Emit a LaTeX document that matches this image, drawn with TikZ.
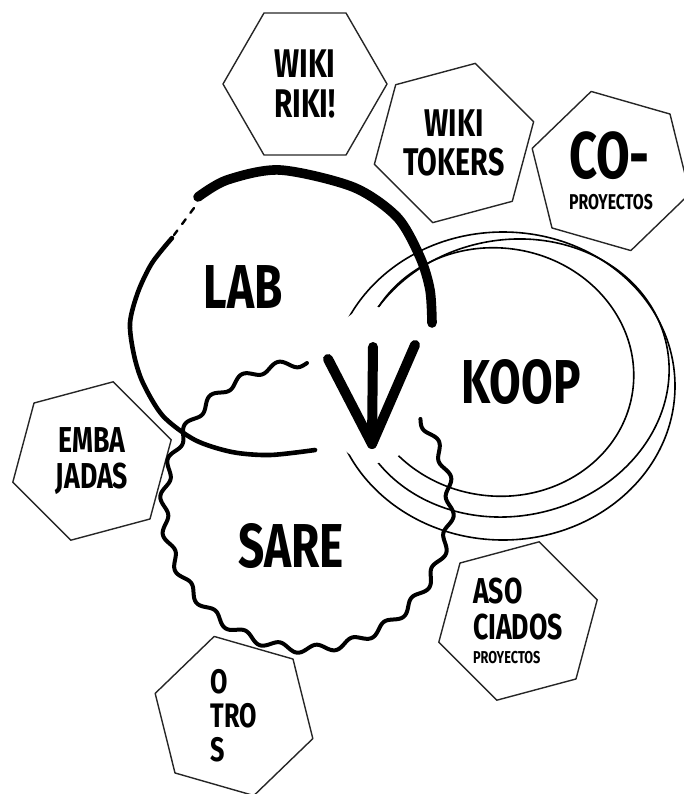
\documentclass[tikz,border=0pt]{standalone}
\usepackage{fontspec}
\usetikzlibrary{shapes.geometric}
\newfontfamily\dinfont{Fira Sans}[FakeStretch=0.74]
\tikzset{
  hexa/.style={draw=black!85, line width=0.7pt, regular polygon, regular polygon sides=6,
    minimum size=82pt, inner sep=0pt, align=center},
  hextxt/.style={font=\dinfont\bfseries\fontsize{#1pt}{#1pt}\selectfont},
  bigtxt/.style={font=\dinfont\bfseries\fontsize{31pt}{31pt}\selectfont},
  koop/.style={draw=black, line width=0.8pt},
  labthick/.style={line width=4.8pt},
  labthin/.style={line width=2.3pt},
  sare/.style={line width=2pt},
  vmark/.style={line width=5pt}
}
\begin{document}
\begin{tikzpicture}[x=0.5pt, y=-0.5pt, line cap=round, line join=round]
  \useasboundingbox (0,0) rectangle (684,794);

  \node[hexa, hextxt=20] (riki) at (305,84) {WIKI\\RIKI!};
  \node[hexa, hextxt=19.3, shape border rotate=15] (tokers) at (454,143) {WIKI\\TOKERS};
  \node[hexa, align=left, hextxt=10.7, shape border rotate=44] (copro) at (611,171)
    {\fontsize{33pt}{33pt}\selectfont CO-\\[5pt]PROYECTOS};
  \node[hexa, hextxt=18, shape border rotate=15] (emba) at (92,461) {EMBA\\JADAS};
  \node[hexa, align=left, hextxt=18, shape border rotate=15] (aso) at (518,621)
    {ASO\\CIADOS\\[-6pt]\fontsize{8.6pt}{12pt}\selectfont PROYECTOS};
  \node[hexa, align=left, hextxt=17, shape border rotate=44] (otros) at (234,716)
    {O\\TRO\\S};

  \draw[koop] (503,386) ellipse [x radius=172, y radius=154];
  \draw[koop, rotate around={12:(510,378)}] (510,378) ellipse [x radius=160, y radius=138];
  \draw[koop, rotate around={-8:(497,372)}] (497,372) ellipse [x radius=137, y radius=124];
  \fill[white] (375,385) ellipse [x radius=55, y radius=78];

  \draw[labthick] plot[smooth] coordinates {(198,197) (227,180) (280,170) (353,187)
    (397,217) (420,257) (430,290) (432,323)};
  \draw[labthin] plot[smooth] coordinates {(172,238) (152,263) (138,292) (130,323)
    (134,355) (143,383) (163,416) (195,440) (232,452) (270,455) (315,450)};
  \draw[line width=1.2pt, dash pattern=on 3pt off 4pt] (194,208) -- (174,235);

  \draw[sare] plot[domain=-37.5:270, samples=400, smooth, variable=\t]
    ({307+(143+4*sin(24*\t))*cos(\t)}, {506+(143+4*sin(24*\t))*sin(\t)});

  \draw[vmark] (328,359) -- (372,444) -- (415,345);
  \draw[vmark] (373,347) -- (372,444);

  \node[bigtxt] (lab) at (243,287) {LAB};
  \node[bigtxt] (koopt) at (521,382) {KOOP};
  \node[bigtxt] (saret) at (291,546) {SARE};
\end{tikzpicture}
\end{document}
